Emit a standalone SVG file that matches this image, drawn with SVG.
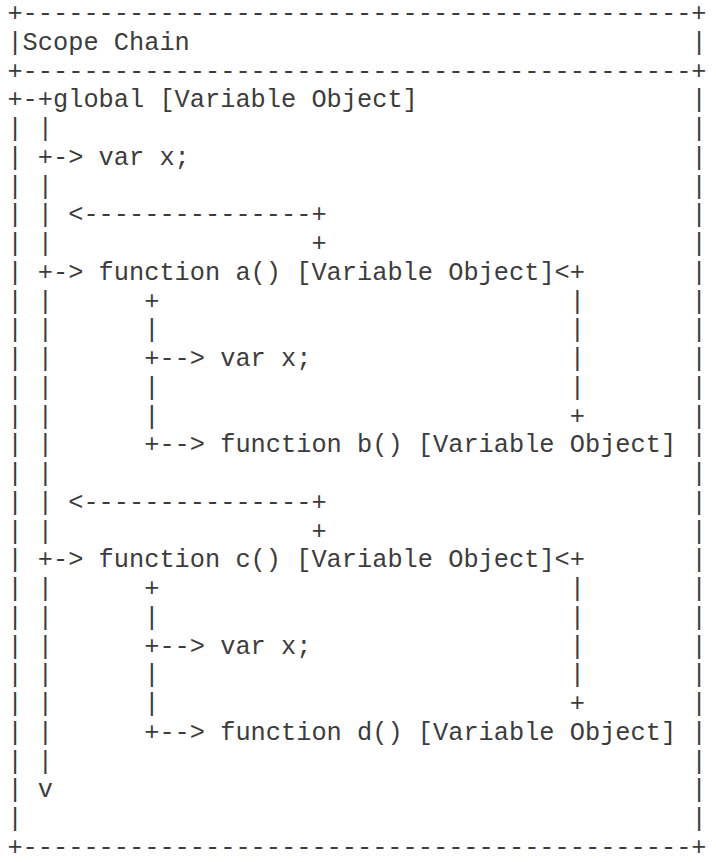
<svg xmlns="http://www.w3.org/2000/svg" width="716" height="862" viewBox="0 0 716 862">
<style>
text { font-family: "Courier New", "Liberation Mono", monospace; font-size: 25.33px; fill: #3c3c3c; white-space: pre; }
</style>
<rect width="716" height="862" fill="#fff"/>
<g id="connectors">
  <text y="21"><tspan x="7.4">+--------------------------------------------+</tspan></text>
  <text y="49.75"><tspan x="7.4">|</tspan><tspan x="691.4">|</tspan></text>
  <text y="78.5"><tspan x="7.4">+--------------------------------------------+</tspan></text>
  <text y="107.25"><tspan x="7.4">+-+</tspan><tspan x="691.4">|</tspan></text>
  <text y="136"><tspan x="7.4">| |</tspan><tspan x="691.4">|</tspan></text>
  <text y="164.75"><tspan x="7.4">| +-&gt;</tspan><tspan x="691.4">|</tspan></text>
  <text y="193.5"><tspan x="7.4">| |</tspan><tspan x="691.4">|</tspan></text>
  <text y="222.25"><tspan x="7.4">| | &lt;---------------+</tspan><tspan x="691.4">|</tspan></text>
  <text y="251"><tspan x="7.4">| |</tspan><tspan x="311.4">+</tspan><tspan x="691.4">|</tspan></text>
  <text y="279.75"><tspan x="7.4">| +-&gt;</tspan><tspan x="554.6">&lt;+</tspan><tspan x="691.4">|</tspan></text>
  <text y="308.5"><tspan x="7.4">| |</tspan><tspan x="144.2">+</tspan><tspan x="569.8">|</tspan><tspan x="691.4">|</tspan></text>
  <text y="337.25"><tspan x="7.4">| |</tspan><tspan x="144.2">|</tspan><tspan x="569.8">|</tspan><tspan x="691.4">|</tspan></text>
  <text y="366"><tspan x="7.4">| |</tspan><tspan x="144.2">+--&gt;</tspan><tspan x="569.8">|</tspan><tspan x="691.4">|</tspan></text>
  <text y="394.75"><tspan x="7.4">| |</tspan><tspan x="144.2">|</tspan><tspan x="569.8">|</tspan><tspan x="691.4">|</tspan></text>
  <text y="423.5"><tspan x="7.4">| |</tspan><tspan x="144.2">|</tspan><tspan x="569.8">+</tspan><tspan x="691.4">|</tspan></text>
  <text y="452.25"><tspan x="7.4">| |</tspan><tspan x="144.2">+--&gt;</tspan><tspan x="691.4">|</tspan></text>
  <text y="481"><tspan x="7.4">| |</tspan><tspan x="691.4">|</tspan></text>
  <text y="509.75"><tspan x="7.4">| | &lt;---------------+</tspan><tspan x="691.4">|</tspan></text>
  <text y="538.5"><tspan x="7.4">| |</tspan><tspan x="311.4">+</tspan><tspan x="691.4">|</tspan></text>
  <text y="567.25"><tspan x="7.4">| +-&gt;</tspan><tspan x="554.6">&lt;+</tspan><tspan x="691.4">|</tspan></text>
  <text y="596"><tspan x="7.4">| |</tspan><tspan x="144.2">+</tspan><tspan x="569.8">|</tspan><tspan x="691.4">|</tspan></text>
  <text y="624.75"><tspan x="7.4">| |</tspan><tspan x="144.2">|</tspan><tspan x="569.8">|</tspan><tspan x="691.4">|</tspan></text>
  <text y="653.5"><tspan x="7.4">| |</tspan><tspan x="144.2">+--&gt;</tspan><tspan x="569.8">|</tspan><tspan x="691.4">|</tspan></text>
  <text y="682.25"><tspan x="7.4">| |</tspan><tspan x="144.2">|</tspan><tspan x="569.8">|</tspan><tspan x="691.4">|</tspan></text>
  <text y="711"><tspan x="7.4">| |</tspan><tspan x="144.2">|</tspan><tspan x="569.8">+</tspan><tspan x="691.4">|</tspan></text>
  <text y="739.75"><tspan x="7.4">| |</tspan><tspan x="144.2">+--&gt;</tspan><tspan x="691.4">|</tspan></text>
  <text y="768.5"><tspan x="7.4">| |</tspan><tspan x="691.4">|</tspan></text>
  <text y="797.25"><tspan x="7.4">| v</tspan><tspan x="691.4">|</tspan></text>
  <text y="826"><tspan x="7.4">|</tspan><tspan x="691.4">|</tspan></text>
  <text y="854.75"><tspan x="7.4">+--------------------------------------------+</tspan></text>
</g>
<g id="scope-chain"><text x="22.6" y="49.75">Scope Chain</text></g>
<g id="global"><text x="53" y="107.25">global [Variable Object]</text></g>
<g id="global-var-x"><text x="98.6" y="164.75">var x;</text></g>
<g id="function-a"><text x="98.6" y="279.75">function a() [Variable Object]</text></g>
<g id="a-var-x"><text x="220.2" y="366">var x;</text></g>
<g id="function-b"><text x="220.2" y="452.25">function b() [Variable Object]</text></g>
<g id="function-c"><text x="98.6" y="567.25">function c() [Variable Object]</text></g>
<g id="c-var-x"><text x="220.2" y="653.5">var x;</text></g>
<g id="function-d"><text x="220.2" y="739.75">function d() [Variable Object]</text></g>
</svg>
